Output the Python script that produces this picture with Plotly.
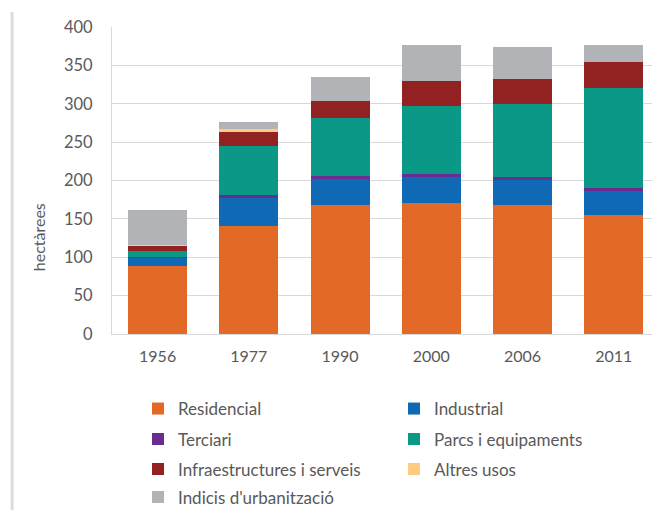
import plotly.graph_objects as go

years = ["1956", "1977", "1990", "2000", "2006", "2011"]
residencial = [89, 141, 167.5, 171, 168, 154.5]
industrial = [11, 36.5, 35.5, 33, 33, 32]
terciari = [0.5, 3, 2.5, 4.5, 4, 3.5]
parcs = [8, 65, 76, 88, 94.5, 130]
infra = [6.5, 18, 22, 33, 33, 34.5]
altres = [1, 3, 0, 0, 0, 0]
indicis = [46, 10, 31.5, 47.5, 41.5, 22]

series = [
    ("Residencial", residencial, "#E36A26", "legend"),
    ("Industrial", industrial, "#0F69B4", "legend"),
    ("Terciari", terciari, "#6A2C91", "legend2"),
    ("Parcs i equipaments", parcs, "#0C9886", "legend2"),
    ("Infraestructures i serveis", infra, "#922222", "legend3"),
    ("Altres usos", altres, "#FFCB80", "legend3"),
    ("Indicis d'urbanització", indicis, "#B2B3B6", "legend4"),
]

FONT = "Lato, 'Open Sans', sans-serif"
GREY = "#595959"

fig = go.Figure()
for name, vals, col, lg in series:
    fig.add_trace(go.Bar(x=years, y=vals, name=name, marker=dict(color=col, line=dict(width=0)),
                         width=0.646, legend=lg))

W, H = 652, 510
L, R, T, B = 111.5, 0, 27, 175.5

leg_common = dict(orientation="h", xref="container", yref="container", x=(178 - 40) / W,
                  xanchor="left", yanchor="middle", entrywidth=211, entrywidthmode="pixels",
                  font=dict(family=FONT, size=17, color=GREY), bgcolor="rgba(0,0,0,0)",
                  traceorder="normal", itemclick=False)
rows_y = [409, 439.5, 469.5, 497.5]

fig.update_layout(
    width=W, height=H, autosize=False,
    margin=dict(l=L, r=R, t=T, b=B, pad=0),
    plot_bgcolor="white", paper_bgcolor="white",
    barmode="stack", bargap=0.354,
    font=dict(family=FONT, size=16, color=GREY),
    legend=dict(leg_common, y=1 - rows_y[0] / H),
    legend2=dict(leg_common, y=1 - rows_y[1] / H),
    legend3=dict(leg_common, y=1 - rows_y[2] / H),
    legend4=dict(leg_common, y=1 - rows_y[3] / H),
    xaxis=dict(range=[-0.5, 5.42], showgrid=False, showline=True, linecolor="#d9d9d9",
               linewidth=1.2, ticks="", tickfont=dict(size=16, color=GREY), ticklabelstandoff=8),
    yaxis=dict(range=[0, 400], dtick=50, showgrid=True, gridcolor="#d9d9d9", gridwidth=1.2,
               showline=True, linecolor="#d9d9d9", linewidth=1.2, zeroline=False, ticks="",
               tickfont=dict(size=16.5, color=GREY), ticklabelstandoff=15),
    showlegend=True,
)

plot_h = H - T - B
plot_w = W - L - R
fig.add_annotation(text="hectàrees", xref="paper", yref="paper",
                   x=(38 - L) / plot_w, y=(H - B - 238) / plot_h, showarrow=False,
                   textangle=-90, font=dict(family=FONT, size=16, color=GREY),
                   xanchor="center", yanchor="middle")
fig.add_shape(type="line", xref="paper", yref="paper",
              x0=(11.5 - L) / plot_w, x1=(11.5 - L) / plot_w,
              y0=(H - B - 12) / plot_h, y1=(H - B - 515) / plot_h,
              line=dict(color="#dcdcdc", width=3))

fig.write_html("out.html", config={"displayModeBar": False},
               post_script="document.body.style.margin='0';document.body.style.overflow='hidden';")
